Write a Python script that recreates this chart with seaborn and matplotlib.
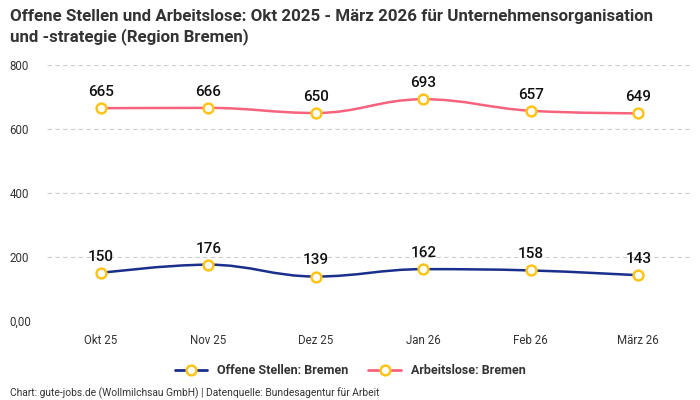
"""Offene Stellen vs. Arbeitslose, Region Bremen."""

import matplotlib
matplotlib.use("Agg")
import matplotlib.pyplot as plt
from matplotlib.path import Path
from matplotlib.patches import PathPatch
from matplotlib.lines import Line2D
import pandas as pd
import seaborn as sns

MONTHS = ["Okt 25", "Nov 25", "Dez 25", "Jan 26", "Feb 26", "März 26"]
OFFENE_STELLEN = [150, 176, 139, 162, 158, 143]
ARBEITSLOSE = [665, 666, 650, 693, 657, 649]
Y_TICKS = [0, 200, 400, 600, 800]
Y_TICK_LABELS = ["0,00", "200", "400", "600", "800"]

NAVY = "#1a2e8c"
PINK = "#f7637d"
GOLD = "#fcc419"
TEXT = "#333333"


def spline_path(xs, ys, smoothing=1.5):
    """Bezier path through the points, Highcharts-style spline."""
    denom = smoothing + 1
    verts = [(xs[0], ys[0])]
    codes = [Path.MOVETO]
    ctrl = []
    n = len(xs)
    for i in range(n):
        if i == 0 or i == n - 1:
            ctrl.append(((xs[i], ys[i]), (xs[i], ys[i])))
            continue
        x, y = xs[i], ys[i]
        lx = (smoothing * x + xs[i - 1]) / denom
        ly = (smoothing * y + ys[i - 1]) / denom
        rx = (smoothing * x + xs[i + 1]) / denom
        ry = (smoothing * y + ys[i + 1]) / denom
        corr = ((ry - ly) * (rx - x)) / (rx - lx) + y - ry
        ly += corr
        ry += corr
        lo, hi = min(ys[i - 1], y), max(ys[i - 1], y)
        if ly > hi:
            ly = hi
            ry = 2 * y - ly
        elif ly < lo:
            ly = lo
            ry = 2 * y - ly
        lo, hi = min(ys[i + 1], y), max(ys[i + 1], y)
        if ry > hi:
            ry = hi
            ly = 2 * y - ry
        elif ry < lo:
            ry = lo
            ly = 2 * y - ry
        ctrl.append(((lx, ly), (rx, ry)))
    for i in range(1, n):
        verts += [ctrl[i - 1][1], ctrl[i][0], (xs[i], ys[i])]
        codes += [Path.CURVE4] * 3
    return Path(verts, codes)


df = pd.DataFrame({
    "x": list(range(len(MONTHS))) * 2,
    "value": OFFENE_STELLEN + ARBEITSLOSE,
    "series": ["Offene Stellen: Bremen"] * len(MONTHS) + ["Arbeitslose: Bremen"] * len(MONTHS),
})

sns.set_style("white")
plt.rcParams["font.family"] = ["Roboto", "DejaVu Sans"]

fig = plt.figure(figsize=(7, 4), dpi=100)
ax = fig.add_axes([47 / 700, 1 - 321 / 400, 645 / 700, 256 / 400])

for name, color in [("Offene Stellen: Bremen", NAVY), ("Arbeitslose: Bremen", PINK)]:
    sub = df[df["series"] == name]
    path = spline_path(list(sub["x"]), list(sub["value"]))
    ax.add_patch(PathPatch(path, facecolor="none", edgecolor=color, lw=1.8, zorder=3))
    for xv, yv in zip(sub["x"], sub["value"]):
        ax.annotate(str(yv), (xv, yv), xytext=(0, 6.5), textcoords="offset points",
                    ha="center", va="bottom", fontsize=11, color="#111111",
                    fontweight="medium", zorder=5)

sns.scatterplot(data=df, x="x", y="value", ax=ax, s=50, color="white",
                edgecolor=GOLD, linewidth=1.8, zorder=4, legend=False)

ax.set_xlim(-0.5, 5.5)
ax.set_ylim(0, 800)
ax.set_xticks(range(len(MONTHS)))
ax.set_xticklabels(MONTHS, fontsize=8.3, color=TEXT)
ax.set_yticks(Y_TICKS)
ax.set_yticklabels(Y_TICK_LABELS, fontsize=8.3, color=TEXT, ha="left")
ax.tick_params(axis="y", length=0, pad=27)
ax.tick_params(axis="x", length=0, pad=9)
ax.set_xlabel("")
ax.set_ylabel("")
ax.grid(axis="y", color="#cccccc", linestyle=(0, (4, 3)), lw=0.8)
ax.set_axisbelow(True)
for s in ax.spines.values():
    s.set_visible(False)

handles = [
    Line2D([], [], color=NAVY, lw=2, marker="o", markersize=7,
           markerfacecolor="white", markeredgecolor=GOLD, markeredgewidth=1.8),
    Line2D([], [], color=PINK, lw=2, marker="o", markersize=7,
           markerfacecolor="white", markeredgecolor=GOLD, markeredgewidth=1.8),
]
leg = fig.legend(handles, ["Offene Stellen: Bremen", "Arbeitslose: Bremen"],
                 loc="center", bbox_to_anchor=(0.5, 1 - 371 / 400), ncol=2,
                 frameon=False, handlelength=2.6, columnspacing=1.6,
                 prop={"weight": "bold", "size": 9})
for t in leg.get_texts():
    t.set_color(TEXT)

fig.text(10 / 700, 1 - 9 / 400,
         "Offene Stellen und Arbeitslose: Okt 2025 - März 2026 für Unternehmensorganisation\nund -strategie (Region Bremen)",
         ha="left", va="top", fontsize=12.2, fontweight="bold", color=TEXT,
         linespacing=1.3)
fig.text(10 / 700, 1 - 393 / 400,
         "Chart: gute-jobs.de (Wollmilchsau GmbH) | Datenquelle: Bundesagentur für Arbeit",
         ha="left", va="center", fontsize=7.4, color=TEXT)

fig.savefig("out.png", dpi=100)
plt.close(fig)
